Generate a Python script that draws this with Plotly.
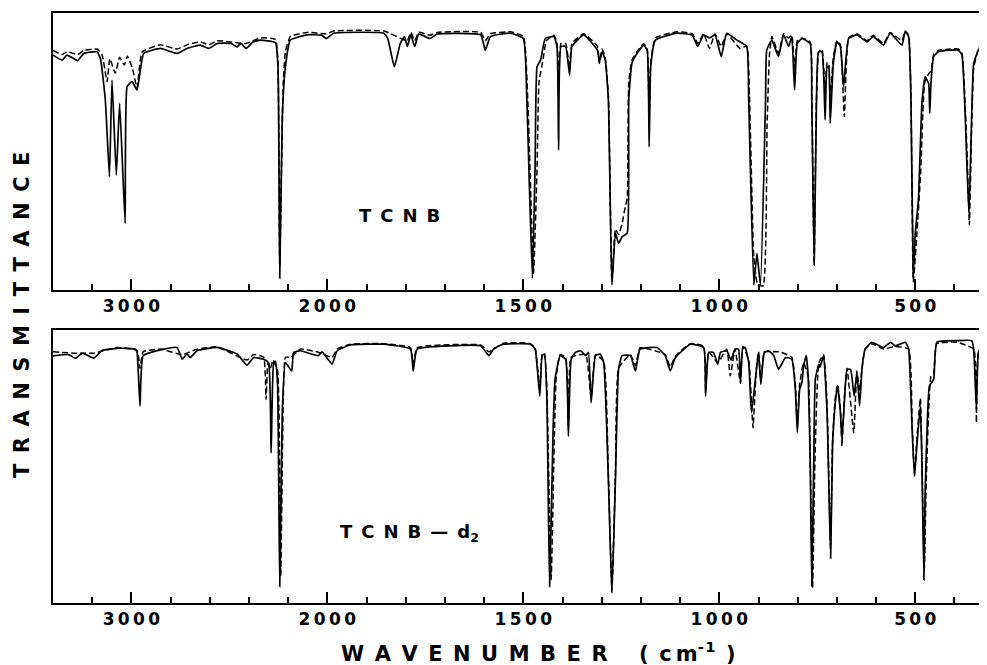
import plotly.graph_objects as go

# ---------------- data (wavenumber cm-1, transmittance %) ----------------
TCNB_SOLID = [
    (3400, 84.8), (3354, 83.0), (3328, 84.8), (3274, 82.8), (3243, 85.4), (3175, 86.0), (3158, 83.6),
    (3133, 68.6), (3112, 40.9), (3099, 75.8), (3077, 41.5), (3060, 67.4), (3032, 24.1), (3022, 73.4),
    (2997, 75.2), (2971, 72.2), (2937, 85.4), (2852, 87.2), (2767, 85.4), (2716, 87.2), (2648, 88.4),
    (2605, 87.2), (2563, 89.0), (2490, 89.0), (2461, 87.8), (2440, 89.0), (2415, 87.2), (2380, 89.5),
    (2342, 90.2), (2265, 89.3), (2252, 80.6), (2243, 4.2), (2230, 62.6), (2214, 80.6), (2189, 90.2),
    (2104, 92.1), (2030, 92.0), (2005, 90.8), (1984, 92.7), (1856, 92.7), (1846, 90.8), (1829, 80.6),
    (1814, 89.0), (1803, 91.5), (1796, 87.9), (1787, 92.1), (1777, 87.9), (1767, 92.4), (1738, 90.8),
    (1720, 92.4), (1609, 92.1), (1597, 86.6), (1584, 91.5), (1533, 92.7), (1500, 90.8), (1491, 68.6),
    (1477, 4.2), (1470, 44.5), (1465, 80.6), (1456, 83.0), (1444, 90.8), (1422, 91.5), (1414, 87.9),
    (1410, 50.5), (1404, 87.9), (1392, 87.9), (1382, 77.6), (1376, 87.9), (1346, 92.1), (1311, 86.6),
    (1306, 82.4), (1299, 86.0), (1291, 83.0), (1283, 68.6), (1274, 1.8), (1265, 20.5), (1257, 16.9),
    (1248, 19.2), (1235, 20.5), (1231, 68.6), (1223, 81.8), (1210, 85.4), (1193, 88.4), (1184, 86.6),
    (1179, 51.7), (1175, 80.6), (1163, 90.2), (1108, 92.7), (1069, 92.0), (1055, 87.9), (1040, 92.1),
    (1025, 91.0), (1011, 92.1), (995, 84.3), (981, 92.7), (955, 90.2), (930, 87.9), (925, 68.6),
    (912, 1.8), (904, 13.2), (895, 1.8), (882, 68.6), (879, 86.6), (866, 90.2), (849, 84.3),
    (836, 92.1), (823, 87.9), (815, 91.5), (808, 72.2), (801, 89.0), (789, 90.8), (768, 89.0),
    (764, 68.6), (758, 9.0), (752, 68.6), (747, 86.0), (738, 86.0), (730, 61.4), (725, 80.6),
    (721, 80.6), (717, 60.2), (709, 82.0), (700, 89.6), (691, 87.9), (683, 73.4), (670, 90.8),
    (649, 92.1), (623, 89.6), (607, 91.5), (581, 88.4), (564, 92.7), (534, 88.4), (526, 93.3),
    (517, 91.5), (511, 68.6), (505, 4.8), (500, 20.5), (492, 32.5), (483, 67.4), (475, 77.0),
    (466, 74.6), (463, 63.8), (460, 74.6), (453, 84.3), (441, 86.0), (411, 86.6), (390, 86.6),
    (381, 84.8), (368, 44.5), (363, 27.7), (355, 68.6), (351, 81.8), (339, 86.6), (317, 91.5),
]

TCNB_DASHED = [
    (3400, 86.5), (3354, 85.0), (3328, 86.0), (3274, 85.0), (3243, 86.5), (3175, 87.0), (3150, 85.0),
    (3124, 75.2), (3110, 83.5), (3082, 78.3), (3060, 84.0), (3036, 81.2), (3020, 84.5), (2995, 80.0),
    (2971, 73.0), (2945, 86.0), (2852, 88.5), (2767, 87.0), (2716, 88.5), (2648, 89.6), (2605, 88.5),
    (2563, 90.0), (2415, 89.0), (2342, 91.0), (2265, 90.5), (2252, 82.0), (2243, 8.4), (2235, 40.0),
    (2225, 75.0), (2214, 86.0), (2189, 91.5), (2104, 93.0), (2005, 92.5), (1984, 93.5), (1856, 93.5),
    (1796, 90.0), (1787, 93.0), (1777, 90.0), (1767, 93.0), (1738, 92.0), (1720, 93.0), (1609, 93.0),
    (1597, 90.0), (1584, 92.5), (1533, 93.2), (1500, 91.5), (1489, 70.0), (1474, 6.0), (1465, 44.0),
    (1460, 75.0), (1450, 83.0), (1441, 90.0), (1422, 92.0), (1414, 89.0), (1410, 72.0), (1404, 89.0),
    (1392, 89.0), (1382, 80.0), (1376, 89.0), (1346, 92.5), (1311, 88.0), (1306, 81.8), (1299, 87.0),
    (1291, 84.0), (1283, 70.0), (1274, 3.0), (1265, 22.0), (1257, 20.0), (1248, 24.0), (1240, 30.0),
    (1235, 33.0), (1231, 75.0), (1223, 83.0), (1210, 86.0), (1193, 89.0), (1184, 87.0), (1179, 60.0),
    (1175, 82.0), (1163, 91.0), (1108, 93.2), (1069, 92.5), (1055, 89.0), (1040, 92.5), (1025, 87.2),
    (1011, 92.5), (995, 87.9), (981, 92.5), (947, 87.2), (930, 88.0), (923, 70.0), (912, 12.0),
    (902, 1.8), (888, 1.5), (878, 60.0), (872, 85.0), (866, 91.5), (849, 85.5), (836, 92.5),
    (824, 91.0), (815, 92.0), (808, 80.0), (801, 90.0), (789, 91.0), (768, 89.5), (764, 70.0),
    (758, 9.5), (752, 70.0), (746, 86.0), (738, 87.0), (730, 72.0), (725, 82.0), (721, 82.0),
    (717, 70.0), (709, 84.0), (700, 90.0), (691, 88.5), (681, 62.6), (670, 91.0), (649, 92.5),
    (623, 90.0), (607, 92.0), (581, 89.0), (564, 93.0), (534, 90.0), (526, 93.5), (517, 92.0),
    (511, 70.0), (505, 3.0), (496, 20.0), (486, 43.0), (476, 75.0), (466, 78.0), (460, 79.0),
    (453, 85.0), (441, 86.5), (411, 87.0), (390, 87.0), (381, 85.5), (368, 50.0), (362, 23.5),
    (356, 60.0), (351, 80.0), (339, 87.0), (317, 92.0),
]

TCNB_D2_SOLID = [
    (3400, 90.5), (3320, 91.0), (3286, 89.6), (3250, 91.5), (3192, 89.7), (3150, 92.5), (3073, 93.3),
    (2980, 93.0), (2971, 91.8), (2956, 72.2), (2940, 90.6), (2852, 92.7), (2767, 93.6), (2741, 89.3),
    (2716, 91.2), (2700, 89.9), (2665, 92.4), (2563, 93.6), (2461, 91.2), (2410, 87.1), (2376, 89.9),
    (2325, 89.3), (2300, 88.0), (2287, 55.0), (2274, 88.0), (2265, 88.5), (2254, 80.0), (2243, 6.0),
    (2230, 70.0), (2214, 88.1), (2182, 85.0), (2172, 91.8), (2138, 92.4), (2046, 90.6), (2027, 92.0),
    (1988, 87.5), (1975, 92.4), (1941, 94.5), (1856, 94.8), (1788, 93.0), (1781, 85.0), (1771, 93.0),
    (1687, 94.2), (1609, 94.2), (1588, 90.6), (1576, 93.0), (1561, 94.2), (1551, 94.8), (1482, 94.8),
    (1470, 93.0), (1458, 75.8), (1452, 90.6), (1446, 91.2), (1440, 75.8), (1433, 6.0), (1424, 63.6),
    (1419, 82.0), (1406, 90.6), (1392, 89.3), (1385, 61.1), (1378, 89.3), (1367, 91.8), (1354, 92.4),
    (1341, 90.6), (1334, 91.8), (1327, 73.4), (1316, 90.6), (1304, 91.2), (1295, 88.1), (1283, 45.2),
    (1274, 3.6), (1265, 45.2), (1257, 85.6), (1248, 90.6), (1227, 90.6), (1214, 85.0), (1202, 93.0),
    (1159, 93.6), (1138, 90.6), (1125, 85.0), (1112, 89.9), (1074, 94.8), (1040, 93.6), (1035, 75.8),
    (1027, 91.8), (1015, 91.8), (1004, 87.5), (997, 91.8), (981, 92.4), (970, 89.0), (960, 93.0),
    (951, 93.0), (946, 80.8), (940, 93.6), (934, 93.6), (925, 88.1), (918, 69.7), (906, 84.4),
    (900, 91.8), (894, 80.1), (885, 91.8), (874, 92.4), (861, 90.6), (849, 85.6), (831, 89.9),
    (815, 89.3), (806, 78.3), (801, 62.4), (795, 78.3), (789, 80.8), (785, 86.9), (778, 90.6),
    (773, 82.0), (768, 51.3), (764, 6.0), (759, 51.3), (755, 82.0), (746, 87.5), (743, 86.3),
    (734, 90.6), (725, 69.7), (716, 16.4), (711, 57.5), (704, 73.4), (698, 79.5), (691, 69.7),
    (687, 59.9), (681, 73.4), (674, 85.6), (665, 85.6), (656, 75.8), (649, 84.4), (642, 72.2),
    (636, 85.6), (628, 93.0), (611, 95.5), (581, 93.6), (563, 95.5), (551, 94.2), (525, 95.5),
    (517, 93.0), (508, 63.6), (502, 46.4), (496, 57.5), (487, 72.2), (483, 51.3), (478, 8.5),
    (475, 39.1), (470, 63.6), (464, 79.5), (453, 82.0), (445, 95.5), (394, 96.1), (356, 96.1),
    (351, 93.0), (344, 70.9), (339, 91.8), (326, 95.5), (317, 96.7),
]

TCNB_D2_DASHED = [
    (3400, 92.0), (3286, 91.5), (3192, 91.5), (3073, 93.6), (2971, 92.5), (2956, 86.0), (2940, 92.0),
    (2852, 93.0), (2741, 91.0), (2665, 93.0), (2563, 93.8), (2410, 89.0), (2376, 91.0), (2325, 90.0),
    (2313, 74.6), (2303, 88.0), (2291, 86.0), (2277, 89.0), (2254, 85.0), (2238, 10.0), (2225, 75.0),
    (2214, 90.0), (2185, 90.0), (2138, 93.0), (2053, 92.0), (1988, 90.0), (1975, 93.0), (1941, 94.8),
    (1856, 95.0), (1788, 93.5), (1781, 87.5), (1771, 93.5), (1609, 94.5), (1588, 92.0), (1551, 95.2),
    (1482, 95.0), (1470, 93.5), (1458, 78.0), (1452, 91.0), (1446, 91.5), (1440, 78.0), (1429, 8.5),
    (1421, 60.0), (1416, 83.0), (1406, 91.0), (1392, 90.0), (1385, 65.0), (1378, 90.0), (1341, 91.0),
    (1327, 75.0), (1316, 91.0), (1295, 88.5), (1283, 47.0), (1274, 4.5), (1265, 47.0), (1257, 86.0),
    (1227, 91.0), (1214, 87.0), (1202, 93.5), (1138, 91.0), (1125, 86.5), (1112, 90.5), (1074, 95.0),
    (1040, 94.0), (1035, 78.0), (1027, 92.0), (1004, 88.0), (981, 93.0), (972, 83.2), (960, 93.0),
    (946, 80.5), (940, 94.0), (925, 89.0), (914, 64.2), (906, 85.0), (900, 92.0), (894, 82.0),
    (885, 92.0), (861, 92.0), (846, 92.0), (815, 90.0), (806, 80.0), (801, 65.0), (795, 80.0),
    (785, 88.0), (773, 83.0), (768, 52.0), (762, 5.6), (756, 52.0), (746, 88.0), (734, 91.0),
    (725, 72.0), (716, 20.0), (711, 60.0), (704, 75.0), (698, 80.0), (691, 71.0), (687, 57.5),
    (681, 75.0), (674, 86.0), (657, 62.4), (649, 85.0), (642, 78.0), (636, 86.0), (628, 93.0),
    (611, 95.0), (581, 93.0), (551, 94.0), (517, 93.0), (508, 65.0), (502, 47.0), (496, 60.0),
    (487, 75.0), (483, 52.0), (477, 12.0), (472, 45.0), (466, 70.0), (460, 83.0), (453, 84.0),
    (445, 95.0), (394, 95.5), (351, 93.0), (344, 66.0), (339, 91.5), (317, 96.0),
]

MAJOR_TICKS = [3000, 2000, 1500, 1000, 500]
MAJOR_LABELS = ["3000", "2000", "1500", "1000", "500"]
MINOR_TICKS = [3200, 2800, 2600, 2400, 2200, 1900, 1800, 1700, 1600, 1400, 1300,
               1200, 1100, 900, 800, 700, 600, 400]
WN_MAX, WN_MIN = 3400, 317
SCALE_BREAK = 2000  # above this the chart uses half scale

PANEL_LABELS = ["T\u2002C\u2002N\u2002B",
                "T\u2002C\u2002N\u2002B\u2002\u2014\u2002d<sub>2</sub>"]
Y_TITLE = "TRANSMITTANCE"
X_TITLE = "WAVENUMBER"


def axis_pos(wn):
    return wn if wn <= SCALE_BREAK else SCALE_BREAK + (wn - SCALE_BREAK) / 2.0


def spaced(s, sep="\u2009"):
    return sep.join(s)


# the page adds an 8 px body margin, so the figure is laid out 8 px smaller
OFF = 8
W, H = 987 - OFF, 665 - OFF


def px(x):
    return (x - OFF) / W


def py(y):
    return (H - (y - OFF)) / H


fig = go.Figure()
series = [
    (TCNB_SOLID, "solid", 1.7, "x", "y"),
    (TCNB_DASHED, "6px,3px", 1.5, "x", "y"),
    (TCNB_D2_SOLID, "solid", 1.7, "x2", "y2"),
    (TCNB_D2_DASHED, "6px,3px", 1.5, "x2", "y2"),
]
for data, dash, lw, xa, ya in series:
    fig.add_trace(go.Scatter(
        x=[axis_pos(w) for w, _ in data], y=[t for _, t in data],
        mode="lines", line=dict(color="black", width=lw, dash=dash, shape="spline", smoothing=0.4),
        xaxis=xa, yaxis=ya, showlegend=False, hoverinfo="skip"))

xcommon = dict(
    range=[axis_pos(WN_MAX), axis_pos(WN_MIN)], showgrid=False, zeroline=False,
    showline=True, linecolor="black", linewidth=2, mirror=True,
    ticks="inside", ticklen=11, tickwidth=2, tickcolor="black",
    tickmode="array", tickvals=[axis_pos(v) for v in MAJOR_TICKS],
    ticktext=[spaced(s) for s in MAJOR_LABELS],
    tickfont=dict(family="DejaVu Sans", size=17, color="black", weight="bold"),
    minor=dict(tickmode="array", tickvals=[axis_pos(v) for v in MINOR_TICKS],
               ticks="inside", ticklen=6, tickwidth=2, tickcolor="black"),
)
ycommon = dict(range=[0, 100], showgrid=False, zeroline=False, showticklabels=False,
               ticks="", showline=True, linecolor="black", linewidth=2)

fig.update_layout(
    width=W, height=H, margin=dict(l=0, r=0, t=0, b=0),
    paper_bgcolor="white", plot_bgcolor="white",
    xaxis=dict(domain=[px(53), 1], anchor="y", **xcommon),
    yaxis=dict(domain=[py(290), py(13)], anchor="x", **ycommon),
    xaxis2=dict(domain=[px(53), 1], anchor="y2", **xcommon),
    yaxis2=dict(domain=[py(603), py(330)], anchor="x2", **ycommon),
)

font_lbl = dict(family="DejaVu Sans", size=18, color="black", weight="bold")
ann = dict(xref="paper", yref="paper", showarrow=False, xanchor="center", yanchor="middle")
fig.add_annotation(text=PANEL_LABELS[0], x=px(399), y=py(215), font=font_lbl, **ann)
fig.add_annotation(text=PANEL_LABELS[1], x=px(409), y=py(533), font=font_lbl, **ann)
fig.add_annotation(text=spaced(Y_TITLE, "\u2002"), x=px(22), y=py(315), textangle=-90,
                   font=dict(family="DejaVu Sans", size=21, color="black", weight="bold"), **ann)
fig.add_annotation(text=spaced(X_TITLE, "\u2002") + "\u2003\u2002(\u2002c\u2009m<sup>-\u200a1</sup>\u2002)",
                   x=px(538), y=py(652),
                   font=dict(family="DejaVu Sans", size=21, color="black", weight="bold"), **ann)

fig.write_html("out.html")
